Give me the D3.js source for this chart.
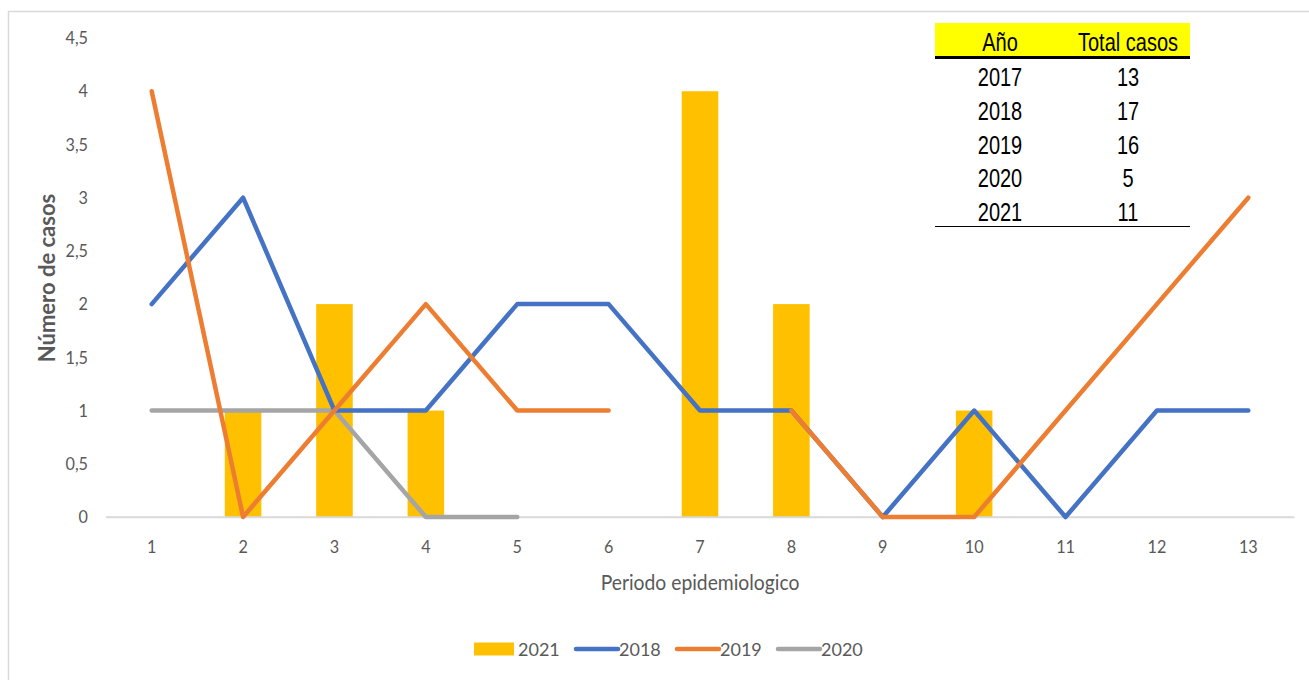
<!DOCTYPE html>
<html>
<head>
<meta charset="utf-8">
<script src="https://cdn.jsdelivr.net/npm/d3@7"></script>
<style>
  html, body { margin: 0; padding: 0; background: #fff; }
  svg { display: block; }
</style>
</head>
<body>
<svg id="chart" width="1309" height="680"></svg>
<script>
// ---- Data ----
const periods = [1,2,3,4,5,6,7,8,9,10,11,12,13];
const bars2021 = [null,1,2,1,null,null,4,2,null,1,null,null,null];
const line2018 = [2,3,1,1,2,2,1,1,0,1,0,1,1];
const line2019 = [4,0,1,2,1,1,null,1,0,0,1,2,3];
const line2020 = [1,1,1,0,0,null,null,null,null,null,null,null,null];
const yTicks = [0,0.5,1,1.5,2,2.5,3,3.5,4,4.5];
const tableYears = ["2017","2018","2019","2020","2021"];
const tableTotals = [13,17,16,5,11];
const legendLabels = ["2021","2018","2019","2020"];

const colors = { "2021": "#FFC000", "2018": "#4472C4", "2019": "#ED7D31", "2020": "#A5A5A5" };

const svg = d3.select("#chart");
const font = "Lato, 'Open Sans', sans-serif";

// chart border
svg.append("rect").attr("x", 8.5).attr("y", 11.5).attr("width", 1400).attr("height", 800)
  .attr("fill", "#fff").attr("stroke", "#d9d9d9").attr("stroke-width", 1.5);

const x = d3.scaleBand().domain(periods).range([106, 1294]).paddingInner(0).paddingOuter(0);
const y = d3.scaleLinear().domain([0, 4.5]).range([517, 38]);
const cx = d => x(d) + x.bandwidth() / 2;

// y tick labels
const fmt = v => String(v).replace(".", ",");
const yAxis = d3.axisLeft(y).tickValues(yTicks).tickFormat(fmt).tickSize(0).tickPadding(0);
const gy = svg.append("g").attr("transform", "translate(88,0)").call(yAxis);
gy.select(".domain").remove();
gy.selectAll("text").attr("font-family", font).attr("font-size", 18).attr("fill", "#595959")
  .attr("transform", "scale(0.9,1)");

// x axis
const xAxis = d3.axisBottom(x).tickSize(0).tickPadding(23);
const gx = svg.append("g").attr("transform", "translate(0,517)").call(xAxis);
gx.select(".domain").attr("stroke", "#d9d9d9").attr("stroke-width", 1.5);
gx.selectAll("text").attr("font-family", font).attr("font-size", 18).attr("fill", "#595959")
  .attr("transform", "scale(0.9,1)");

// bars
const barW = x.bandwidth() / 2.5;
svg.append("g").selectAll("rect")
  .data(periods.map((p, i) => ({ p, v: bars2021[i] })).filter(d => d.v != null))
  .join("rect")
  .attr("x", d => cx(d.p) - barW / 2)
  .attr("width", barW)
  .attr("y", d => y(d.v))
  .attr("height", d => y(0) - y(d.v))
  .attr("fill", colors["2021"]);

// redraw axis line over bars
svg.append("line").attr("x1", 106).attr("x2", 1294).attr("y1", 517).attr("y2", 517)
  .attr("stroke", "#d9d9d9").attr("stroke-width", 1.5);

// lines
const lineGen = d3.line()
  .defined(d => d.v != null)
  .x(d => cx(d.p))
  .y(d => y(d.v));
const series = [["2020", line2020], ["2018", line2018], ["2019", line2019]];
series.forEach(([name, vals]) => {
  svg.append("path")
    .datum(periods.map((p, i) => ({ p, v: vals[i] })))
    .attr("d", lineGen)
    .attr("fill", "none")
    .attr("stroke", colors[name])
    .attr("stroke-width", 4.5)
    .attr("stroke-linecap", "round")
    .attr("stroke-linejoin", "round");
});

// axis titles
svg.append("text").attr("transform", "translate(700,590) scale(0.92,1)").attr("text-anchor", "middle")
  .attr("font-family", font).attr("font-size", 21).attr("fill", "#595959")
  .text("Periodo epidemiologico");
svg.append("text").attr("transform", "translate(55,278) rotate(-90)").attr("text-anchor", "middle")
  .attr("font-family", font).attr("font-size", 22).attr("font-weight", 700).attr("fill", "#595959")
  .text("Número de casos");

// legend
const legX = [474, 575, 676, 777];
const lg = svg.append("g");
legendLabels.forEach((name, i) => {
  const g = lg.append("g").attr("transform", `translate(${legX[i]},649)`);
  if (name === "2021") {
    g.append("rect").attr("x", 0).attr("y", -6.5).attr("width", 40).attr("height", 13).attr("fill", colors[name]);
  } else {
    g.append("line").attr("x1", 1).attr("x2", 43).attr("y1", 0).attr("y2", 0)
      .attr("stroke", colors[name]).attr("stroke-width", 4.5).attr("stroke-linecap", "round");
  }
  g.append("text").attr("x", 44).attr("y", 7).attr("font-family", font).attr("font-size", 18)
    .attr("fill", "#595959").attr("transform", "scale(1,1)").text(name);
});

// table
const tfont = "'Liberation Sans Narrow', 'Liberation Sans', Arial, sans-serif";
const tg = svg.append("g");
tg.append("rect").attr("x", 935).attr("y", 23).attr("width", 255).attr("height", 33).attr("fill", "#FFFF00");
tg.append("line").attr("x1", 935).attr("x2", 1190).attr("y1", 57.5).attr("y2", 57.5)
  .attr("stroke", "#000").attr("stroke-width", 3);
tg.append("line").attr("x1", 935).attr("x2", 1190).attr("y1", 226.5).attr("y2", 226.5)
  .attr("stroke", "#000").attr("stroke-width", 1.2);
const tText = (tx, ty, s) => tg.append("text")
  .attr("transform", `translate(${tx},${ty}) scale(0.8,1)`).attr("text-anchor", "middle")
  .attr("font-family", tfont).attr("font-size", 25).attr("fill", "#000").text(s);
tText(1000, 51, "Año");
tText(1128, 51, "Total casos");
tableYears.forEach((yr, i) => {
  const yy = 86 + i * 33.8;
  tText(1000, yy, yr);
  tText(1128, yy, tableTotals[i]);
});
</script>
</body>
</html>
